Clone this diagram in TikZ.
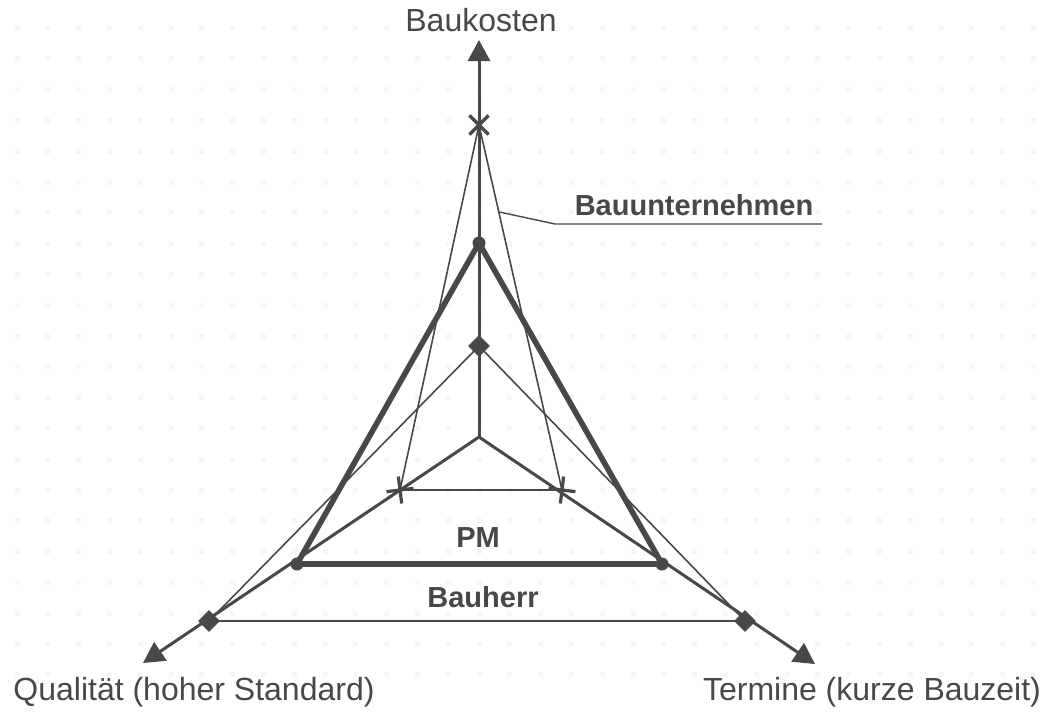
\documentclass[tikz,border=0pt]{standalone}
\usepackage{fontspec}
\setmainfont{Liberation Sans}
\usetikzlibrary{arrows.meta, shapes.geometric, shapes.misc, calc}
\definecolor{inkgray}{RGB}{72,72,72}
\definecolor{dotgray}{RGB}{246,246,246}

\begin{document}
\begin{tikzpicture}[x=0.5pt, y=-0.5pt, >={Triangle[length=10.5pt,width=11pt]},
    axis/.style={draw=inkgray, line width=1.5pt},
    thinline/.style={draw=inkgray, line width=0.8pt},
    pmline/.style={draw=inkgray, line width=2.8pt},
    dotmark/.style={circle, fill=inkgray, inner sep=0pt, minimum size=6.5pt},
    rhombmark/.style={diamond, fill=inkgray, inner sep=0pt, minimum size=11pt},
    crossmark/.style={cross out, draw=inkgray, line width=1.6pt, inner sep=0pt, minimum size=8pt},
    axislabel/.style={font=\fontsize{16}{19}\selectfont, text=inkgray, inner sep=0pt, anchor=base},
    grouplabel/.style={font=\fontsize{14.5}{17}\selectfont\bfseries, text=inkgray, inner sep=0pt, anchor=base}]
    \useasboundingbox[fill=white] (0,0) rectangle (1054,712);
    % faint dot grid of the paper
    \foreach \i in {0,...,33}
      \foreach \j in {0,...,21}
        \fill[dotgray] ({14.5+30.8*\i},{25.5+30.8*\j}) rectangle ++(5,5);

    % axes
    \coordinate (O) at (479,437);
    \coordinate (tipK) at (479,40);
    \coordinate (tipQ) at (143,663);
    \coordinate (tipT) at (815,664);
    \foreach \t in {tipK, tipQ, tipT}
      \draw[axis, ->] (O) -- (\t);

    % corner points
    \coordinate (U1) at (479,125);
    \coordinate (U2) at (400,490);
    \coordinate (U3) at (562,490);
    \coordinate (P1) at (479,243);
    \coordinate (P2) at (297,564);
    \coordinate (P3) at (662,564);
    \coordinate (H1) at (479,346);
    \coordinate (H2) at (209,621);
    \coordinate (H3) at (745,621);

    % triangles
    \draw[thinline] (H1) -- (H2) -- (H3) -- cycle;
    \draw[thinline] (U1) -- (U2) -- (U3) -- cycle;
    \draw[pmline] (P1) -- (P2) -- (P3) -- cycle;

    % markers
    \node[crossmark] (mU1) at (U1) {};
    \node[crossmark, rotate=52] (mU2) at (U2) {};
    \node[crossmark, rotate=38] (mU3) at (U3) {};
    \foreach \p in {P1, P2, P3}
      \node[dotmark] (m\p) at (\p) {};
    \foreach \p in {H1, H2, H3}
      \node[rhombmark] (m\p) at (\p) {};

    % labels
    \node[axislabel] (kosten) at (481,32) {Baukosten};
    \node[axislabel] (qual) at (194,700) {Qualität (hoher Standard)};
    \node[axislabel] (termin) at (872,700) {Termine (kurze Bauzeit)};
    \node[grouplabel] (unt) at (694,215) {Bauunternehmen};
    \node[grouplabel] (pm) at (478,547) {PM};
    \node[grouplabel] (herr) at (483,607) {Bauherr};

    % leader to Bauunternehmen
    \coordinate (leadS) at ($(U1)!0.238!(U3)$);
    \coordinate (leadK) at (555,224);
    \coordinate (leadE) at (822,224);
    \draw[inkgray, line width=0.7pt] (leadS) -- (leadK) -- (leadE);
\end{tikzpicture}
\end{document}
